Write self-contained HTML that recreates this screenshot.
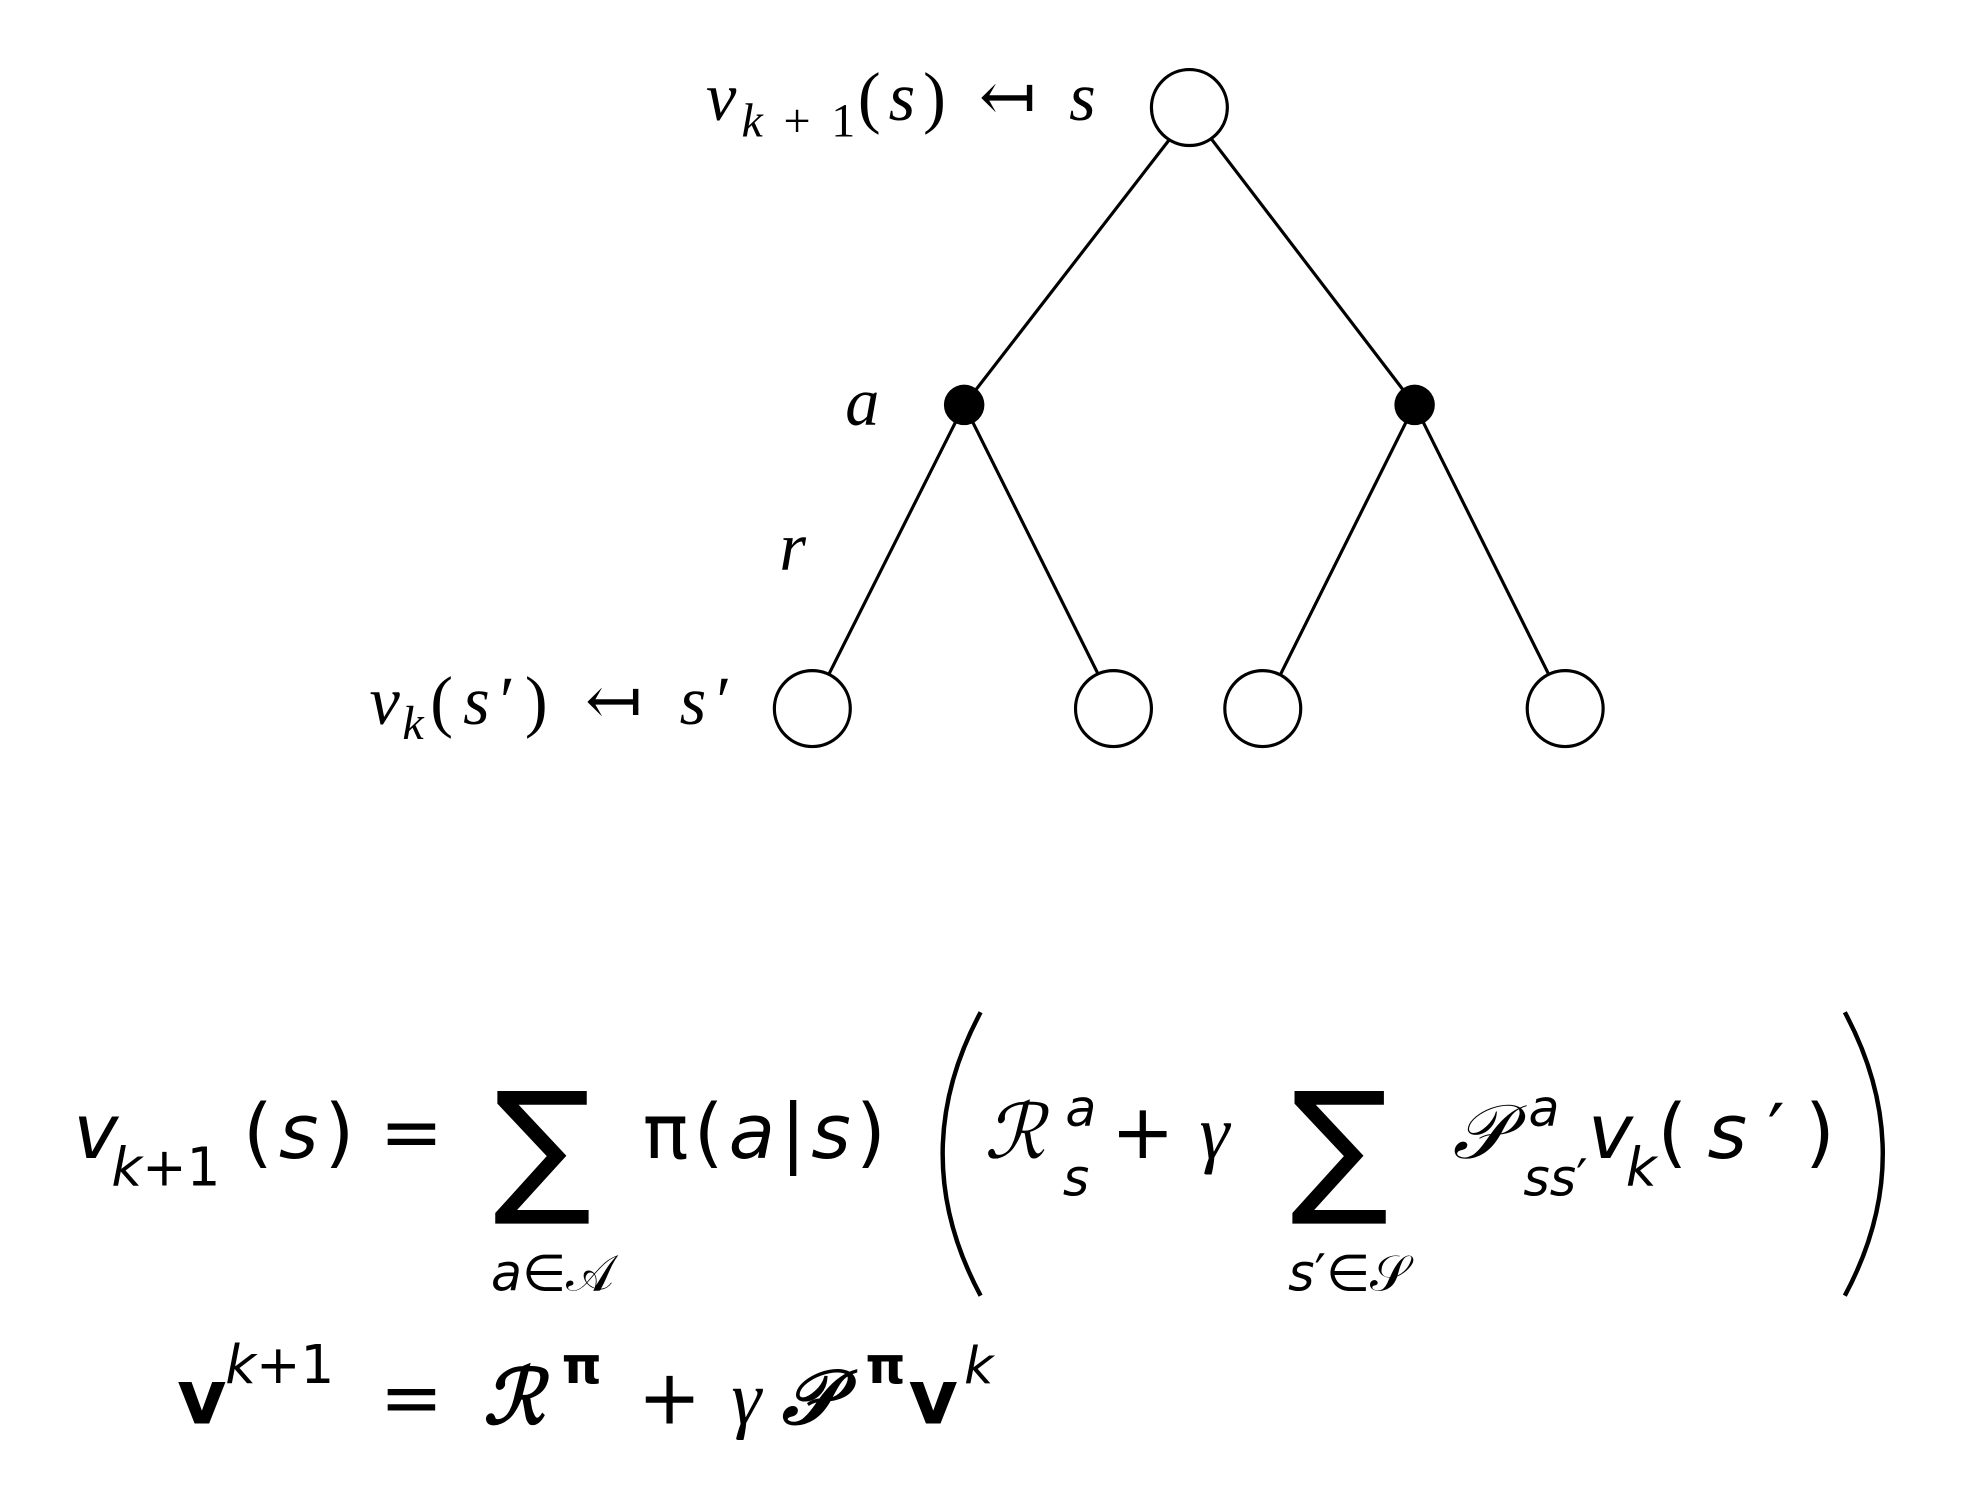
<!DOCTYPE html>
<html><head><meta charset="utf-8"><style>
html,body{margin:0;padding:0;background:#fff;}
svg{display:block;}
.s{font-family:"DejaVu Sans","Liberation Sans",sans-serif;}
.i{font-family:"Liberation Serif","DejaVu Serif",serif;font-style:italic;}
</style></head><body>
<svg width="1984" height="1488" viewBox="0 0 1568 1176" xmlns="http://www.w3.org/2000/svg">
<g stroke="#000" stroke-width="2.5" fill="none">
<line x1="926" y1="108" x2="762" y2="320"/>
<line x1="956" y1="108" x2="1118" y2="320"/>
<line x1="762" y1="320" x2="655" y2="533"/>
<line x1="762" y1="320" x2="868" y2="533"/>
<line x1="1118" y1="320" x2="1012" y2="533"/>
<line x1="1118" y1="320" x2="1224" y2="533"/>
<circle cx="940" cy="85" r="30" fill="#fff"/>
<circle cx="642" cy="560" r="30" fill="#fff"/>
<circle cx="880" cy="560" r="30" fill="#fff"/>
<circle cx="998" cy="560" r="30" fill="#fff"/>
<circle cx="1237" cy="560" r="30" fill="#fff"/>
</g>
<circle cx="762" cy="320" r="16" fill="#000"/>
<circle cx="1118" cy="320" r="16" fill="#000"/>
<g class="i" font-size="54" fill="#000">
<text x="558" y="95">v</text>
<text x="586" y="108" font-size="38" textLength="90" lengthAdjust="spacing">k<tspan font-style="normal">+1</tspan></text>
<text x="678" y="95" textLength="188" lengthAdjust="spacing"><tspan font-style="normal">(</tspan>s<tspan font-style="normal">) ↤ </tspan>s</text>
<text x="292" y="572">v</text>
<text x="318" y="584" font-size="38">k</text>
<text x="340" y="572" textLength="238" lengthAdjust="spacing"><tspan font-style="normal">(</tspan>s<tspan font-style="normal">′) ↤ </tspan>s<tspan font-style="normal">′</tspan></text>
<text x="668" y="336">a</text>
<text x="616" y="450">r</text>
</g>
<g class="s" fill="#000" font-size="60" font-style="italic">
<text x="58" y="915">v</text>
<text x="88" y="937" font-size="42">k<tspan font-style="normal">+1</tspan></text>
<text x="192" y="915" textLength="88" lengthAdjust="spacing"><tspan font-style="normal">(</tspan>s<tspan font-style="normal">)</tspan></text>
<text x="300" y="915" font-style="normal">=</text>
<text x="390" y="945" font-size="115" font-style="normal">∑</text>
<text x="388" y="1020" font-size="40">a<tspan font-style="normal">∈𝒜</tspan></text>
<text x="508" y="915" textLength="192" lengthAdjust="spacing"><tspan font-style="normal">π(</tspan>a<tspan font-style="normal">|</tspan>s<tspan font-style="normal">)</tspan></text>
<text x="778" y="915" class="i">ℛ</text>
<text x="842" y="890" font-size="40">a</text>
<text x="840" y="945" font-size="40">s</text>
<text x="878" y="915" font-style="normal">+</text>
<text x="948" y="915" class="i">γ</text>
<text x="1020" y="945" font-size="115" font-style="normal">∑</text>
<text x="1018" y="1020" font-size="40">s<tspan font-style="normal">′∈𝒮</tspan></text>
<text x="1148" y="915" class="i">𝒫</text>
<text x="1208" y="890" font-size="40">a</text>
<text x="1204" y="945" font-size="40">ss<tspan font-style="normal">′</tspan></text>
<text x="1255" y="915">v</text>
<text x="1285" y="937" font-size="42">k</text>
<text x="1310" y="915" textLength="140" lengthAdjust="spacing"><tspan font-style="normal">(</tspan>s<tspan font-style="normal">′)</tspan></text>
<text x="140" y="1125" font-weight="bold" font-style="normal">v</text>
<text x="178" y="1093" font-size="42">k<tspan font-style="normal">+1</tspan></text>
<text x="300" y="1125" font-style="normal">=</text>
<text x="382" y="1125" class="i" font-weight="bold">ℛ</text>
<text x="444" y="1093" font-size="40" font-weight="bold" font-style="normal">π</text>
<text x="504" y="1125" font-style="normal">+</text>
<text x="578" y="1125" class="i">γ</text>
<text x="618" y="1125" class="i" font-weight="bold">𝒫</text>
<text x="684" y="1093" font-size="40" font-weight="bold" font-style="normal">π</text>
<text x="718" y="1125" font-weight="bold" font-style="normal">v</text>
<text x="762" y="1093" font-size="40">k</text>
</g>
<g fill="none" stroke="#000" stroke-width="3.5">
<path d="M775,800 Q715,912 775,1024"/>
<path d="M1458,800 Q1518,912 1458,1024"/>
</g>
</svg>
</body></html>
